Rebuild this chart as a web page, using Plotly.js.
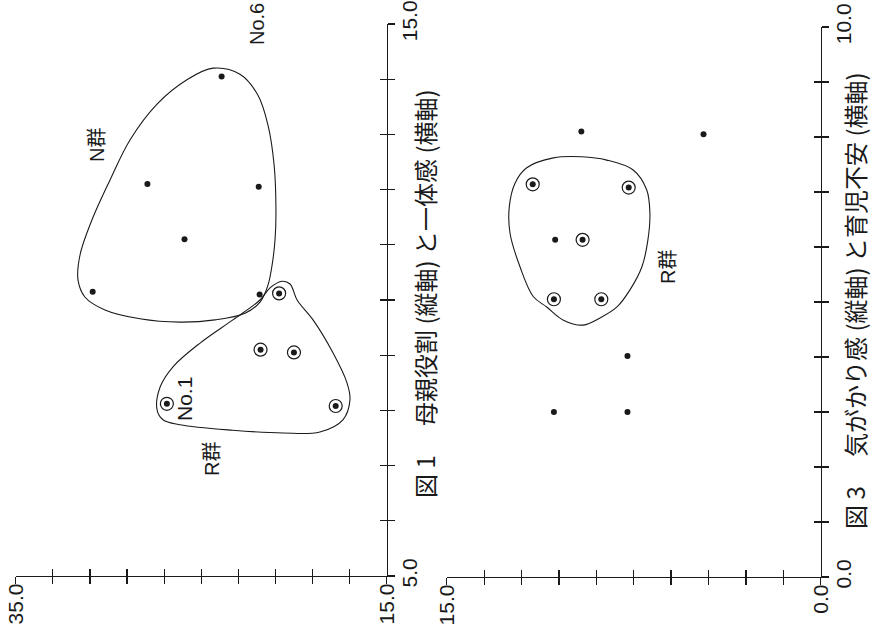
<!DOCTYPE html>
<html><head><meta charset="utf-8">
<script src="https://cdn.plot.ly/plotly-3.0.1.min.js"></script>
<style>html,body{margin:0;padding:0;background:#fff;}#chart{width:873px;height:629px;}</style>
</head><body><div id="chart"></div>
<script>
// ---------- Figure 1: 母親役割 (縦軸, drawn horizontally) vs 一体感 (横軸, drawn vertically) ----------
const fig1Maternal = [23.9, 27.9, 21.9, 25.9, 30.85, 21.85, 20.8, 21.8, 20.0, 26.85, 17.75, 22.9];
const fig1Unity    = [14.05, 12.1, 12.05, 11.1, 10.15, 10.1, 10.12, 9.1, 9.05, 8.12, 8.08, 15.06];
const fig1Circled  = [0, 0, 0, 0, 0, 0, 1, 1, 1, 1, 1, 1];

// group outlines (data space)
const fig1NGroupMaternal = [24.36, 22.91, 21.94, 21.40, 21.07, 20.97, 21.02, 21.18, 21.40, 21.83, 22.64, 24.26, 26.14, 28.30, 30.19, 31.26, 31.64, 31.53, 30.89, 29.92, 28.84, 27.38, 25.77, 24.36];
const fig1NGroupUnity    = [14.20, 14.09, 13.71, 13.17, 12.45, 11.63, 11.09, 10.63, 10.27, 9.96, 9.76, 9.64, 9.60, 9.66, 9.82, 10.05, 10.36, 10.82, 11.45, 12.17, 12.90, 13.55, 13.99, 14.20];
const fig1RGroupMaternal = [20.64, 20.21, 19.83, 18.97, 17.89, 17.14, 16.98, 17.36, 18.60, 20.59, 23.29, 26.14, 27.06, 27.38, 27.22, 26.52, 25.06, 23.29, 21.83, 21.29, 20.64];
const fig1RGroupUnity    = [10.34, 10.29, 10.00, 9.64, 9.04, 8.50, 8.19, 7.83, 7.61, 7.59, 7.64, 7.74, 7.83, 8.01, 8.42, 8.79, 9.22, 9.64, 10.00, 10.22, 10.34];

const fig1XTicks = [35, 33, 31, 29, 27, 25, 23, 21, 19, 17, 15];
const fig1XTickText = ['35.0', '', '', '', '', '', '', '', '', '', '15.0'];
const fig1YTicks = [5, 6, 7, 8, 9, 10, 11, 12, 13, 14, 15];
const fig1YTickText = ['5.0', '', '', '', '', '', '', '', '', '', '15.0'];

// ---------- Figure 3: 気がかり感 (縦軸, drawn horizontally) vs 育児不安 (横軸, drawn vertically) ----------
const fig3Worry   = [9.6, 4.7, 10.65, 7.75, 10.7, 7.75, 11.55, 7.7, 9.55, 10.7, 8.8];
const fig3Anxiety = [8.1, 8.05, 6.13, 4.02, 3.0, 3.0, 7.14, 7.08, 6.13, 5.05, 5.05];
const fig3Circled = [0, 0, 0, 0, 0, 0, 1, 1, 1, 1, 1];

const fig3RGroupWorry   = [9.59, 8.58, 7.52, 6.98, 6.85, 6.93, 7.17, 7.65, 8.17, 8.85, 9.52, 10.32, 10.99, 11.53, 12.06, 12.46, 12.49, 12.26, 11.79, 10.72, 9.59];
const fig3RGroupAnxiety = [7.64, 7.58, 7.40, 7.04, 6.62, 6.13, 5.64, 5.22, 4.91, 4.71, 4.58, 4.67, 4.91, 5.10, 5.64, 6.25, 6.73, 7.16, 7.44, 7.62, 7.64];

const fig3XTicks = [15, 13.5, 12, 10.5, 9, 7.5, 6, 4.5, 3, 1.5, 0];
const fig3XTickText = ['15.0', '', '', '', '', '', '', '', '', '', '0.0'];
const fig3YTicks = [0, 1, 2, 3, 4, 5, 6, 7, 8, 9, 10];
const fig3YTickText = ['0.0', '', '', '', '', '', '', '', '', '', '10.0'];

const fig1Caption = '図 1　 母親役割 (縦軸) と一体感 (横軸)';
const fig3Caption = '図 3　 気がかり感 (縦軸) と育児不安 (横軸)';

// ---------- layout helpers ----------
const W = 873, H = 629;
const px = v => v / W;
const py = v => 1 - v / H;
const INK = '#1a1a1a';
const LATIN = 'Liberation Sans, Arial, Noto Sans CJK JP, sans-serif';
const CJK = 'Noto Sans CJK JP, sans-serif';

function pick(arr, flags) { return arr.filter((_, i) => flags[i]); }

const dotMarker = {size: 6, color: INK, symbol: 'circle'};
const ringMarker = {size: 13, color: INK, symbol: 'circle-open', line: {width: 1.2, color: INK}};
const outline = {color: INK, width: 1.1, shape: 'spline', smoothing: 1};

const traces = [
  {x: fig1NGroupMaternal, y: fig1NGroupUnity, xaxis: 'x', yaxis: 'y', mode: 'lines', line: outline, hoverinfo: 'skip', cliponaxis: false},
  {x: fig1RGroupMaternal, y: fig1RGroupUnity, xaxis: 'x', yaxis: 'y', mode: 'lines', line: outline, hoverinfo: 'skip', cliponaxis: false},
  {x: fig1Maternal, y: fig1Unity, xaxis: 'x', yaxis: 'y', mode: 'markers', marker: dotMarker, cliponaxis: false},
  {x: pick(fig1Maternal, fig1Circled), y: pick(fig1Unity, fig1Circled), xaxis: 'x3', yaxis: 'y3', mode: 'markers', marker: ringMarker, cliponaxis: false},
  {x: fig3RGroupWorry, y: fig3RGroupAnxiety, xaxis: 'x2', yaxis: 'y2', mode: 'lines', line: outline, hoverinfo: 'skip', cliponaxis: false},
  {x: fig3Worry, y: fig3Anxiety, xaxis: 'x2', yaxis: 'y2', mode: 'markers', marker: dotMarker, cliponaxis: false},
  {x: pick(fig3Worry, fig3Circled), y: pick(fig3Anxiety, fig3Circled), xaxis: 'x4', yaxis: 'y4', mode: 'markers', marker: ringMarker, cliponaxis: false}
];

const f1x = [px(15.7), px(386.7)], f1y = [py(576), py(24)];
const f3x = [px(446.7), px(820.7)], f3y = [py(577), py(27)];

function mainAxis(domain, range, tickvals, ticktext, anchor, side, standoff) {
  return {domain, range, anchor, side, showline: true, linecolor: INK, linewidth: 1.2,
    ticks: 'outside', ticklen: 7, tickwidth: 1.2, tickcolor: INK,
    tickmode: 'array', tickvals, ticktext, tickangle: -90, ticklabelstandoff: standoff,
    tickfont: {family: LATIN, size: 21, color: INK},
    showgrid: false, zeroline: false, automargin: false, fixedrange: true};
}
function innerAxis(over, range, tickvals, anchor, side) {
  return {overlaying: over, range, anchor, side, showline: false,
    ticks: 'inside', ticklen: 7, tickwidth: 1.2, tickcolor: INK,
    tickmode: 'array', tickvals, showticklabels: false,
    showgrid: false, zeroline: false, automargin: false, fixedrange: true};
}

const lbl = (text, x, y, size, family) => ({text, x: px(x), y: py(y), xref: 'paper', yref: 'paper',
  textangle: -90, showarrow: false, xanchor: 'center', yanchor: 'middle',
  font: {family: family || LATIN, size: size, color: INK}});

const layout = {
  width: W, height: H, autosize: false,
  margin: {l: 0, r: 0, t: 0, b: 0, pad: 0},
  paper_bgcolor: '#fff', plot_bgcolor: 'rgba(0,0,0,0)',
  showlegend: false, hovermode: false,
  xaxis: mainAxis(f1x, [35, 15], fig1XTicks, fig1XTickText, 'y', 'bottom', -9),
  yaxis: mainAxis(f1y, [5, 15], fig1YTicks, fig1YTickText, 'x', 'right', -3),
  xaxis3: innerAxis('x', [35, 15], fig1XTicks, 'y', 'bottom'),
  yaxis3: innerAxis('y', [5, 15], fig1YTicks, 'x', 'right'),
  xaxis2: mainAxis(f3x, [15, 0], fig3XTicks, fig3XTickText, 'y2', 'bottom', -9),
  yaxis2: mainAxis(f3y, [0, 10], fig3YTicks, fig3YTickText, 'x2', 'right', -3),
  xaxis4: innerAxis('x2', [15, 0], fig3XTicks, 'y2', 'bottom'),
  yaxis4: innerAxis('y2', [0, 10], fig3YTicks, 'x2', 'right'),
  annotations: [
    lbl(fig1Caption, 424, 294, 24, CJK),
    lbl(fig3Caption, 854, 301, 24, CJK),
    lbl('No.6', 257, 24, 20),
    lbl('No.1', 184, 399, 21),
    lbl('N群', 97, 145, 20),
    lbl('R群', 212, 459, 20),
    lbl('R群', 668, 267, 20)
  ]
};

Plotly.newPlot('chart', traces, layout, {staticPlot: true, displayModeBar: false});
</script></body></html>
